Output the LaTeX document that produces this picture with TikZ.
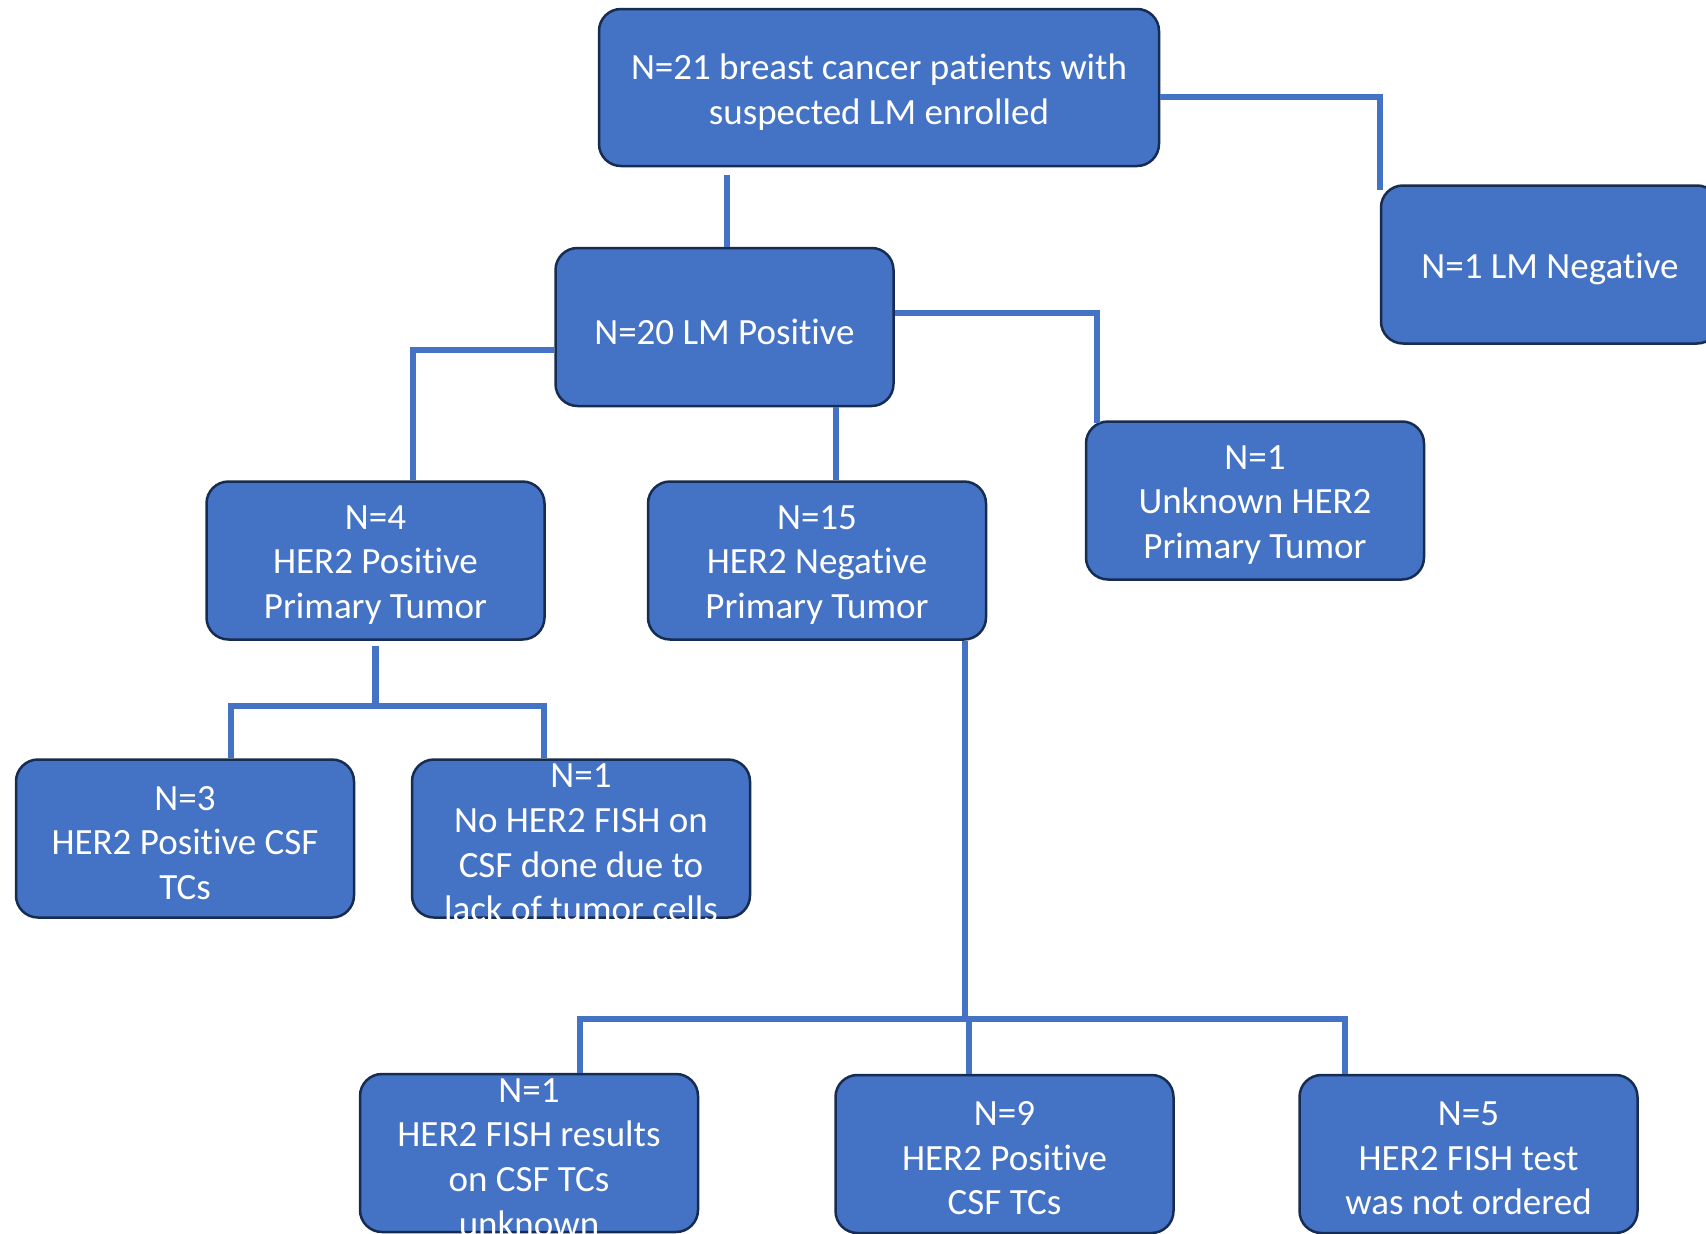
\documentclass[tikz,border=0pt]{standalone}
\usepackage{fontspec}
\setmainfont[Ligatures=NoCommon]{Carlito}
\usetikzlibrary{calc}
\definecolor{boxblue}{HTML}{4472C4}
\definecolor{boxedge}{HTML}{172C51}
\tikzset{
  box/.style={draw=boxedge, line width=2.5pt, fill=boxblue, rounded corners=22pt,
    minimum width=338pt, minimum height=158pt, inner sep=0pt},
  txt/.style={text=white, align=center, inner sep=0pt, yshift=-4.5pt,
    font=\fontsize{37}{44.6}\selectfont},
  conn/.style={draw=boxblue, line width=6.5pt}
}
\begin{document}
\begin{tikzpicture}[x=1pt,y=-1pt]
\useasboundingbox (0,0) rectangle (1706,1234);
\clip (0,0) rectangle (1706,1234);
\fill[white] (0,0) rectangle (1706,1234);
% boxes
\node[box, minimum width=560pt, minimum height=157pt] (top) at (879,87.5) {};
\node[box] (neg) at (1550,264.5) {};
\node[box] (pos20) at (724.5,327) {};
\node[box] (her2pos) at (375.5,560.5) {};
\node[box] (her2neg) at (817,560.5) {};
\node[box] (unk) at (1255,500.5) {};
\node[box] (n3) at (185,838.5) {};
\node[box] (nofish) at (581,838.5) {};
\node[box] (bl) at (529,1153) {};
\node[box] (n9) at (1004.5,1154) {};
\node[box] (n5) at (1468.5,1154) {};
% connectors
\draw[conn] ($(top.east)+(0,9.5)$) -| ($(neg.north west)+(0,6)$);
\draw[conn] ($(pos20.north)+(2.5,0)$) -- ++(0,-72);
\draw[conn] ($(pos20.west)+(0,23)$) -| ($(her2pos.north)+(37.5,0)$);
\draw[conn] ($(pos20.south)+(111.5,0)$) -- ($(her2neg.north)+(19,0)$);
\draw[conn] ($(pos20.east)+(0,-14)$) -| ($(unk.north)+(-158,3)$);
\draw[conn] ($(her2pos.south)+(0,5)$) -- ($(her2pos.south)+(0,65)$);
\draw[conn] ($(n3.north)+(46,0)$) |- ($(her2pos.south)+(0,65)$) -| ($(nofish.north)+(-37,0)$);
\draw[conn] ($(her2neg.south)+(148,0)$) -- ($(her2neg.south)+(148,378)$);
\draw[conn] ($(bl.north)+(51,0)$) |- ($(her2neg.south)+(148,378)$) -| ($(n5.north)+(-123.5,0)$);
\draw[conn] ($(n9.north)+(-35.5,0)$) -- ($(her2neg.south)+(152,378)$);
% texts
\node[txt] at (top) {N=21 breast cancer patients with\\suspected LM enrolled};
\node[txt] at (neg) {N=1 LM Negative};
\node[txt] at (pos20) {N=20 LM Positive};
\node[txt] at (her2pos) {N=4\\HER2 Positive\\Primary Tumor};
\node[txt] at (her2neg) {N=15\\HER2 Negative\\Primary Tumor};
\node[txt] at (unk) {N=1\\Unknown HER2\\Primary Tumor};
\node[txt] at (n3) {N=3\\HER2 Positive CSF\\TCs};
\node[txt] at (nofish) {N=1\\No HER2 FISH on\\CSF done due to\\lack of tumor cells};
\node[txt] at (bl) {N=1\\HER2 FISH results\\on CSF TCs\\unknown};
\node[txt] at (n9) {N=9\\HER2 Positive\\CSF TCs};
\node[txt] at (n5) {N=5\\HER2 FISH test\\was not ordered};
\end{tikzpicture}
\end{document}
